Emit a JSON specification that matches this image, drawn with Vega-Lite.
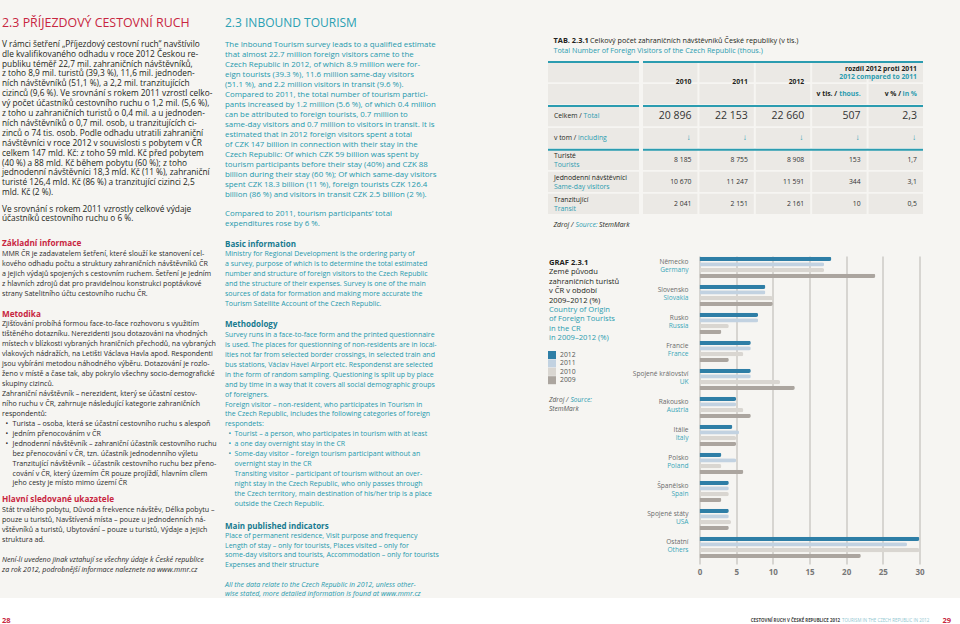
{
  "$schema": "https://vega.github.io/schema/vega-lite/v6.json",
  "background": "#f6f5f2",
  "padding": 0,
  "spacing": 0,
  "resolve": {"scale": {"color": "independent"}, "legend": {"color": "independent"}},
  "config": {
    "view": {"stroke": null},
    "font": "Open Sans",
    "text": {"align": "left", "baseline": "alphabetic", "font": "Open Sans"}
  },
  "datasets": {
    "one": [{}],
    "years": [{"year": "2012"}, {"year": "2011"}, {"year": "2010"}, {"year": "2009"}],
    "bars": [
      {"cz": "Německo", "en": "Germany", "year": "2012", "v": 18},
      {"cz": "Německo", "en": "Germany", "year": "2011", "v": 17},
      {"cz": "Německo", "en": "Germany", "year": "2010", "v": 17},
      {"cz": "Německo", "en": "Germany", "year": "2009", "v": 24},
      {"cz": "Slovensko", "en": "Slovakia", "year": "2012", "v": 9},
      {"cz": "Slovensko", "en": "Slovakia", "year": "2011", "v": 9},
      {"cz": "Slovensko", "en": "Slovakia", "year": "2010", "v": 10},
      {"cz": "Slovensko", "en": "Slovakia", "year": "2009", "v": 10},
      {"cz": "Rusko", "en": "Russia", "year": "2012", "v": 8},
      {"cz": "Rusko", "en": "Russia", "year": "2011", "v": 8},
      {"cz": "Rusko", "en": "Russia", "year": "2010", "v": 4},
      {"cz": "Rusko", "en": "Russia", "year": "2009", "v": 3},
      {"cz": "Francie", "en": "France", "year": "2012", "v": 7},
      {"cz": "Francie", "en": "France", "year": "2011", "v": 7},
      {"cz": "Francie", "en": "France", "year": "2010", "v": 6},
      {"cz": "Francie", "en": "France", "year": "2009", "v": 4},
      {"cz": "Spojené království", "en": "UK", "year": "2012", "v": 7},
      {"cz": "Spojené království", "en": "UK", "year": "2011", "v": 7},
      {"cz": "Spojené království", "en": "UK", "year": "2010", "v": 11},
      {"cz": "Spojené království", "en": "UK", "year": "2009", "v": 13},
      {"cz": "Rakousko", "en": "Austria", "year": "2012", "v": 5},
      {"cz": "Rakousko", "en": "Austria", "year": "2011", "v": 5},
      {"cz": "Rakousko", "en": "Austria", "year": "2010", "v": 6},
      {"cz": "Rakousko", "en": "Austria", "year": "2009", "v": 7},
      {"cz": "Itálie", "en": "Italy", "year": "2012", "v": 4.5},
      {"cz": "Itálie", "en": "Italy", "year": "2011", "v": 5.4},
      {"cz": "Itálie", "en": "Italy", "year": "2010", "v": 5},
      {"cz": "Itálie", "en": "Italy", "year": "2009", "v": 5},
      {"cz": "Polsko", "en": "Poland", "year": "2012", "v": 3},
      {"cz": "Polsko", "en": "Poland", "year": "2011", "v": 5},
      {"cz": "Polsko", "en": "Poland", "year": "2010", "v": 3},
      {"cz": "Polsko", "en": "Poland", "year": "2009", "v": 6},
      {"cz": "Španělsko", "en": "Spain", "year": "2012", "v": 4},
      {"cz": "Španělsko", "en": "Spain", "year": "2011", "v": 4},
      {"cz": "Španělsko", "en": "Spain", "year": "2010", "v": 4},
      {"cz": "Španělsko", "en": "Spain", "year": "2009", "v": 3},
      {"cz": "Spojené státy", "en": "USA", "year": "2012", "v": 4},
      {"cz": "Spojené státy", "en": "USA", "year": "2011", "v": 4},
      {"cz": "Spojené státy", "en": "USA", "year": "2010", "v": 4.3},
      {"cz": "Spojené státy", "en": "USA", "year": "2009", "v": 4},
      {"cz": "Ostatní", "en": "Others", "year": "2012", "v": 30},
      {"cz": "Ostatní", "en": "Others", "year": "2011", "v": 28.3},
      {"cz": "Ostatní", "en": "Others", "year": "2010", "v": 30},
      {"cz": "Ostatní", "en": "Others", "year": "2009", "v": 22}
    ],
    "cells": [
      {"row": "h1", "col": "y2010", "t": "2010"}, {"row": "h1", "col": "y2011", "t": "2011"}, {"row": "h1", "col": "y2012", "t": "2012"}, {"row": "h1", "col": "dth", "t": ""}, {"row": "h1", "col": "dpc", "t": ""},
      {"row": "h2", "col": "y2010", "t": ""}, {"row": "h2", "col": "y2011", "t": ""}, {"row": "h2", "col": "y2012", "t": ""}, {"row": "h2", "col": "dth", "t": ""}, {"row": "h2", "col": "dpc", "t": ""},
      {"row": "tot", "col": "y2010", "t": "20 896"}, {"row": "tot", "col": "y2011", "t": "22 153"}, {"row": "tot", "col": "y2012", "t": "22 660"}, {"row": "tot", "col": "dth", "t": "507"}, {"row": "tot", "col": "dpc", "t": "2,3"},
      {"row": "vtom", "col": "y2010", "t": "↓"}, {"row": "vtom", "col": "y2011", "t": "↓"}, {"row": "vtom", "col": "y2012", "t": "↓"}, {"row": "vtom", "col": "dth", "t": "↓"}, {"row": "vtom", "col": "dpc", "t": "↓"},
      {"row": "tur", "col": "y2010", "t": "8 185"}, {"row": "tur", "col": "y2011", "t": "8 755"}, {"row": "tur", "col": "y2012", "t": "8 908"}, {"row": "tur", "col": "dth", "t": "153"}, {"row": "tur", "col": "dpc", "t": "1,7"},
      {"row": "jed", "col": "y2010", "t": "10 670"}, {"row": "jed", "col": "y2011", "t": "11 247"}, {"row": "jed", "col": "y2012", "t": "11 591"}, {"row": "jed", "col": "dth", "t": "344"}, {"row": "jed", "col": "dpc", "t": "3,1"},
      {"row": "tra", "col": "y2010", "t": "2 041"}, {"row": "tra", "col": "y2011", "t": "2 151"}, {"row": "tra", "col": "y2012", "t": "2 161"}, {"row": "tra", "col": "dth", "t": "10"}, {"row": "tra", "col": "dpc", "t": "0,5"}
    ],
    "hdr": [
      {"row": "h1", "col": "dpc", "cz": "rozdíl 2012 proti 2011", "en": "2012 compared to 2011"},
      {"row": "h2", "col": "dth", "cz": "v tis. /", "en": "thous."},
      {"row": "h2", "col": "dpc", "cz": "v % /", "en": "in %"}
    ],
    "labels": [
      {"row": "h1", "cz": "", "en": ""},
      {"row": "h2", "cz": "", "en": ""},
      {"row": "tot", "cz": "Celkem /", "en": "Total"},
      {"row": "vtom", "cz": "v tom /", "en": "including"},
      {"row": "tur", "cz": "Turisté", "en": "Tourists"},
      {"row": "jed", "cz": "Jednodenní návštěvníci", "en": "Same-day visitors"},
      {"row": "tra", "cz": "Tranzitující", "en": "Transit"}
    ],
    "tlines": [{"row": "h1"}, {"row": "tot"}, {"row": "tur"}]
  },
  "vconcat": [
    {
      "resolve": {"scale": {"color": "independent"}, "legend": {"color": "independent"}},
      "hconcat": [
        {
          "width": 547,
          "height": 597,
          "data": {"name": "one"},
          "layer": [
            {"mark": {"type": "text", "text": "2.3 PŘÍJEZDOVÝ CESTOVNÍ RUCH", "x": 2, "y": 27, "fontSize": 12.4, "color": "#c8263f"}},
            {"mark": {"type": "text", "x": 2, "y": 46.8, "fontSize": 8.3, "lineHeight": 9.9, "color": "#231f20", "text": [
              "V rámci šetření „Příjezdový cestovní ruch“ navštívilo",
              "dle kvalifikovaného odhadu v roce 2012 Českou re-",
              "publiku téměř 22,7 mil. zahraničních návštěvníků,",
              "z toho 8,9 mil. turistů (39,3 %), 11,6 mil. jednoden-",
              "ních návštěvníků (51,1 %), a 2,2 mil. tranzitujících",
              "cizinců (9,6 %). Ve srovnání s rokem 2011 vzrostl celko-",
              "vý počet účastníků cestovního ruchu o 1,2 mil. (5,6 %),",
              "z toho u zahraničních turistů o 0,4 mil. a u jednoden-",
              "ních návštěvníků o 0,7 mil. osob, u tranzitujících ci-",
              "zinců o 74 tis. osob. Podle odhadu utratili zahraniční",
              "návštěvníci v roce 2012 v souvislosti s pobytem v ČR",
              "celkem 147 mld. Kč: z toho 59 mld. Kč před pobytem",
              "(40 %) a 88 mld. Kč během pobytu (60 %); z toho",
              "jednodenní návštěvníci 18,3 mld. Kč (11 %), zahraniční",
              "turisté 126,4 mld. Kč (86 %) a tranzitující cizinci 2,5",
              "mld. Kč (2 %)."
            ]}},
            {"mark": {"type": "text", "x": 2, "y": 211.5, "fontSize": 8.3, "lineHeight": 9.9, "color": "#231f20", "text": [
              "Ve srovnání s rokem 2011 vzrostly celkové výdaje",
              "účastníků cestovního ruchu o 6 %."
            ]}},
            {"mark": {"type": "text", "text": "Základní informace", "x": 2, "y": 246, "fontSize": 8.2, "fontWeight": "bold", "color": "#c8263f"}},
            {"mark": {"type": "text", "x": 2, "y": 256.2, "fontSize": 7.1, "lineHeight": 9.95, "color": "#2b2b2b", "text": [
              "MMR ČR je zadavatelem šetření, které slouží ke stanovení cel-",
              "kového odhadu počtu a struktury zahraničních návštěvníků ČR",
              "a jejich výdajů spojených s cestovním ruchem. Šetření je jedním",
              "z hlavních zdrojů dat pro pravidelnou konstrukci poptávkové",
              "strany Satelitního účtu cestovního ruchu ČR."
            ]}},
            {"mark": {"type": "text", "text": "Metodika", "x": 2, "y": 317, "fontSize": 8.2, "fontWeight": "bold", "color": "#c8263f"}},
            {"mark": {"type": "text", "x": 2, "y": 326.3, "fontSize": 7.1, "lineHeight": 9.95, "color": "#2b2b2b", "text": [
              "Zjišťování probíhá formou face-to-face rozhovoru s využitím",
              "tištěného dotazníku. Nerezidenti jsou dotazováni na vhodných",
              "místech v blízkosti vybraných hraničních přechodů, na vybraných",
              "vlakových nádražích, na Letišti Václava Havla apod. Respondenti",
              "jsou vybíráni metodou náhodného výběru. Dotazování je rozlo-",
              "ženo v místě a čase tak, aby pokrylo všechny socio-demografické",
              "skupiny cizinců.",
              "Zahraniční návštěvník – nerezident, který se účastní cestov-",
              "ního ruchu v ČR, zahrnuje následující kategorie zahraničních",
              "respondentů:"
            ]}},
            {"mark": {"type": "text", "x": 5.5, "y": 425.8, "fontSize": 7.1, "lineHeight": 9.95, "color": "#2b2b2b", "text": ["•", "", "•", "", "•", "", ""]}},
            {"mark": {"type": "text", "x": 12.5, "y": 425.8, "fontSize": 7.1, "lineHeight": 9.95, "color": "#2b2b2b", "text": [
              "Turista – osoba, která se účastní cestovního ruchu s alespoň",
              "jedním přenocováním v ČR",
              "Jednodenní návštěvník – zahraniční účastník cestovního ruchu",
              "bez přenocování v ČR, tzn. účastník jednodenního výletu",
              "Tranzitující návštěvník – účastník cestovního ruchu bez přeno-",
              "cování v ČR, který územím ČR pouze projíždí, hlavním cílem",
              "jeho cesty je místo mimo území ČR"
            ]}},
            {"mark": {"type": "text", "text": "Hlavní sledované ukazatele", "x": 2, "y": 502, "fontSize": 8.2, "fontWeight": "bold", "color": "#c8263f"}},
            {"mark": {"type": "text", "x": 2, "y": 512.3, "fontSize": 7.1, "lineHeight": 9.95, "color": "#2b2b2b", "text": [
              "Stát trvalého pobytu, Důvod a frekvence návštěv, Délka pobytu –",
              "pouze u turistů, Navštívená místa – pouze u jednodenních ná-",
              "vštěvníků a turistů, Ubytování – pouze u turistů, Výdaje a jejich",
              "struktura ad."
            ]}},
            {"mark": {"type": "text", "x": 2, "y": 562.3, "fontSize": 7.1, "lineHeight": 9.95, "fontStyle": "italic", "color": "#2b2b2b", "text": [
              "Není-li uvedeno jinak vztahují se všechny údaje k České republice",
              "za rok 2012, podrobnější informace naleznete na www.mmr.cz"
            ]}},
            {"mark": {"type": "text", "text": "2.3 INBOUND TOURISM", "x": 225, "y": 27, "fontSize": 12, "color": "#2aa0b3"}},
            {"mark": {"type": "text", "x": 225, "y": 46.5, "fontSize": 7.9, "lineHeight": 10, "color": "#2599ad", "text": [
              "The Inbound Tourism survey leads to a qualified estimate",
              "that almost 22.7 million foreign visitors came to the",
              "Czech Republic in 2012, of which 8.9 million were for-",
              "eign tourists (39.3 %), 11.6 million same-day visitors",
              "(51.1 %), and 2.2 million visitors in transit (9.6 %).",
              "Compared to 2011, the total number of tourism partici-",
              "pants increased by 1.2 million (5.6 %), of which 0.4 million",
              "can be attributed to foreign tourists, 0.7 million to",
              "same-day visitors and 0.7 million to visitors in transit. It is",
              "estimated that in 2012 foreign visitors spent a total",
              "of CZK 147 billion in connection with their stay in the",
              "Czech Republic: Of which CZK 59 billion was spent by",
              "tourism participants before their stay (40%) and CZK 88",
              "billion during their stay (60 %); Of which same-day visitors",
              "spent CZK 18.3 billion (11 %), foreign tourists CZK 126.4",
              "billion (86 %) and visitors in transit CZK 2.5 billion (2 %)."
            ]}},
            {"mark": {"type": "text", "x": 225, "y": 216, "fontSize": 7.9, "lineHeight": 10, "color": "#2599ad", "text": [
              "Compared to 2011, tourism participants’ total",
              "expenditures rose by 6 %."
            ]}},
            {"mark": {"type": "text", "text": "Basic information", "x": 225, "y": 247, "fontSize": 8, "fontWeight": "bold", "color": "#177a90"}},
            {"mark": {"type": "text", "x": 225, "y": 256.2, "fontSize": 7, "lineHeight": 9.95, "color": "#2599ad", "text": [
              "Ministry for Regional Development is the ordering party of",
              "a survey, purpose of which is to determine the total estimated",
              "number and structure of foreign visitors to the Czech Republic",
              "and the structure of their expenses. Survey is one of the main",
              "sources of data for formation and making more accurate the",
              "Tourism Satellite Account of the Czech Republic."
            ]}},
            {"mark": {"type": "text", "text": "Methodology", "x": 225, "y": 327, "fontSize": 8, "fontWeight": "bold", "color": "#177a90"}},
            {"mark": {"type": "text", "x": 225, "y": 336.9, "fontSize": 7, "lineHeight": 9.95, "color": "#2599ad", "text": [
              "Survey runs in a face-to-face form and the printed questionnaire",
              "is used. The places for questionning of non-residents are in local-",
              "ities not far from selected border crossings, in selected train and",
              "bus stations, Václav Havel Airport etc. Respondenst are selected",
              "in the form of random sampling. Questioning is split up by place",
              "and by time in a way that it covers all social demographic groups",
              "of foreigners.",
              "Foreign visitor – non-resident, who participates in Tourism in",
              "the Czech Republic, includes the following categories of foreign",
              "respondets:"
            ]}},
            {"mark": {"type": "text", "x": 228.5, "y": 436.4, "fontSize": 7, "lineHeight": 9.95, "color": "#2599ad", "text": ["•", "", "•", "", "•", "", "", ""]}},
            {"mark": {"type": "text", "x": 234.5, "y": 436.4, "fontSize": 7, "lineHeight": 9.95, "color": "#2599ad", "text": [
              "Tourist – a person, who participates in tourism with at least",
              "a one day overnight stay in the CR",
              "Some-day visitor – foreign tourism participant without an",
              "overnight stay in the CR",
              "Transiting visitor – participant of tourism without an over-",
              "night stay in the Czech Republic, who only passes through",
              "the Czech territory, main destination of his/her trip is a place",
              "outside the Czech Republic."
            ]}},
            {"mark": {"type": "text", "text": "Main published indicators", "x": 225, "y": 528.5, "fontSize": 8, "fontWeight": "bold", "color": "#177a90"}},
            {"mark": {"type": "text", "x": 225, "y": 537.6, "fontSize": 7, "lineHeight": 9.95, "color": "#2599ad", "text": [
              "Place of permanent residence, Visit purpose and frequency",
              "Length of stay – only for tourists, Places visited – only for",
              "some-day visitors and tourists, Accommodation – only for tourists",
              "Expenses and their structure"
            ]}},
            {"mark": {"type": "text", "x": 225, "y": 586.5, "fontSize": 7, "lineHeight": 9.6, "fontStyle": "italic", "color": "#2599ad", "text": [
              "All the data relate to the Czech Republic in 2012, unless other-",
              "wise stated, more detailed information is found at www.mmr.cz"
            ]}}
          ]
        },
        {
          "resolve": {"scale": {"color": "independent"}, "legend": {"color": "independent"}},
          "spacing": 27,
          "vconcat": [
            {
              "vconcat": [
                {
                  "width": 373,
                  "height": 56,
                  "data": {"name": "one"},
                  "layer": [
                    {"mark": {"type": "text", "text": "TAB. 2.3.1", "x": 5.5, "y": 42.7, "fontSize": 7.4, "fontWeight": "bold", "color": "#231f20"}},
                    {"mark": {"type": "text", "text": "Celkový počet zahraničních návštěvníků České republiky (v tis.)", "x": 42, "y": 42.7, "fontSize": 7.2, "color": "#231f20"}},
                    {"mark": {"type": "text", "text": "Total Number of Foreign Visitors of the Czech Republic (thous.)", "x": 5.5, "y": 52.7, "fontSize": 7.2, "color": "#2b9cb0"}}
                  ]
                },
                {
                  "hconcat": [
                    {
                      "width": 91,
                      "height": 152,
                      "data": {"name": "labels"},
                      "layer": [
                        {"mark": {"type": "rect", "color": "#ebe9e5"}, "encoding": {
                          "y": {"field": "row", "type": "nominal", "scale": {"domain": ["h1", "h2", "tot", "vtom", "tur", "jed", "tra"], "paddingInner": 0.08, "paddingOuter": 0}, "axis": null},
                          "x": {"value": 0}, "x2": {"value": "width"}}},
                        {"transform": [{"filter": "datum.row === 'tur' || datum.row === 'jed' || datum.row === 'tra'"}],
                         "mark": {"type": "text", "baseline": "middle", "dy": -4.3, "fontSize": 6.8, "color": "#231f20"},
                         "encoding": {"y": {"field": "row", "type": "nominal"}, "x": {"value": 6}, "text": {"field": "cz"}}},
                        {"transform": [{"filter": "datum.row === 'tur' || datum.row === 'jed' || datum.row === 'tra'"}],
                         "mark": {"type": "text", "baseline": "middle", "dy": 4.7, "fontSize": 6.8, "color": "#2b9cb0"},
                         "encoding": {"y": {"field": "row", "type": "nominal"}, "x": {"value": 6}, "text": {"field": "en"}}},
                        {"transform": [{"filter": "datum.row === 'tot' || datum.row === 'vtom'"}],
                         "mark": {"type": "text", "baseline": "middle", "fontSize": 6.8, "color": "#231f20"},
                         "encoding": {"y": {"field": "row", "type": "nominal"}, "x": {"value": 6}, "text": {"field": "cz"}}},
                        {"transform": [{"filter": "datum.row === 'tot'"}],
                         "mark": {"type": "text", "baseline": "middle", "fontSize": 6.8, "color": "#2b9cb0"},
                         "encoding": {"y": {"field": "row", "type": "nominal"}, "x": {"value": 35.6}, "text": {"field": "en"}}},
                        {"transform": [{"filter": "datum.row === 'vtom'"}],
                         "mark": {"type": "text", "baseline": "middle", "fontSize": 6.8, "color": "#2b9cb0"},
                         "encoding": {"y": {"field": "row", "type": "nominal"}, "x": {"value": 30}, "text": {"field": "en"}}},
                        {"data": {"name": "tlines"}, "mark": {"type": "rule", "color": "#2b9cb0", "strokeWidth": 2},
                         "encoding": {"y": {"field": "row", "type": "nominal", "bandPosition": 0}}},
                        {"data": {"name": "one"}, "mark": {"type": "text", "text": "Zdroj /", "fontSize": 6.8, "fontStyle": "italic", "color": "#231f20"},
                         "encoding": {"x": {"value": 5.5}, "y": {"value": 164.5}}},
                        {"data": {"name": "one"}, "mark": {"type": "text", "text": "Source:", "fontSize": 6.8, "fontStyle": "italic", "color": "#2b9cb0"},
                         "encoding": {"x": {"value": 27.5}, "y": {"value": 164.5}}},
                        {"data": {"name": "one"}, "mark": {"type": "text", "text": "StemMark", "fontSize": 6.8, "fontStyle": "italic", "color": "#231f20"},
                         "encoding": {"x": {"value": 51}, "y": {"value": 164.5}}}
                      ]
                    },
                    {
                      "width": 280,
                      "height": 152,
                      "layer": [
                        {"data": {"name": "cells"}, "mark": {"type": "rect", "color": "#ebe9e5"}, "encoding": {
                          "x": {"field": "col", "type": "nominal", "scale": {"domain": ["y2010", "y2011", "y2012", "dth", "dpc"], "paddingInner": 0.035, "paddingOuter": 0}, "axis": null},
                          "y": {"field": "row", "type": "nominal", "scale": {"domain": ["h1", "h2", "tot", "vtom", "tur", "jed", "tra"], "paddingInner": 0.08, "paddingOuter": 0}, "axis": null}}},
                        {"data": {"name": "cells"}, "transform": [{"filter": "datum.row === 'h1' && datum.t !== ''"}],
                         "mark": {"type": "text", "align": "right", "baseline": "middle", "dx": -6, "fontSize": 6.8, "fontWeight": "bold", "color": "#231f20"},
                         "encoding": {"x": {"field": "col", "type": "nominal", "bandPosition": 1}, "y": {"field": "row", "type": "nominal", "bandPosition": 1}, "text": {"field": "t"}}},
                        {"data": {"name": "cells"}, "transform": [{"filter": "datum.row === 'tot' || datum.row === 'tur' || datum.row === 'jed' || datum.row === 'tra'"}],
                         "mark": {"type": "text", "align": "right", "baseline": "middle", "dx": -6, "color": "#333333"},
                         "encoding": {"x": {"field": "col", "type": "nominal", "bandPosition": 1}, "y": {"field": "row", "type": "nominal"}, "text": {"field": "t"},
                           "size": {"condition": {"test": "datum.row === 'tot'", "value": 10.5}, "value": 6.8}}},
                        {"data": {"name": "cells"}, "transform": [{"filter": "datum.row === 'vtom'"}],
                         "mark": {"type": "text", "align": "right", "baseline": "middle", "dx": -7, "fontSize": 8, "color": "#2b9cb0"},
                         "encoding": {"x": {"field": "col", "type": "nominal", "bandPosition": 1}, "y": {"field": "row", "type": "nominal"}, "text": {"field": "t"}}},
                        {"data": {"name": "hdr"}, "transform": [{"filter": "datum.row === 'h1'"}],
                         "mark": {"type": "text", "align": "right", "baseline": "middle", "dx": -6, "dy": -3.2, "fontSize": 6.8, "fontWeight": "bold", "color": "#231f20"},
                         "encoding": {"x": {"field": "col", "type": "nominal", "bandPosition": 1}, "y": {"field": "row", "type": "nominal"}, "text": {"field": "cz"}}},
                        {"data": {"name": "hdr"}, "transform": [{"filter": "datum.row === 'h1'"}],
                         "mark": {"type": "text", "align": "right", "baseline": "middle", "dx": -6, "dy": 4.8, "fontSize": 6.8, "fontWeight": "bold", "color": "#2b9cb0"},
                         "encoding": {"x": {"field": "col", "type": "nominal", "bandPosition": 1}, "y": {"field": "row", "type": "nominal"}, "text": {"field": "en"}}},
                        {"data": {"name": "hdr"}, "transform": [{"filter": "datum.row === 'h2' && datum.col === 'dth'"}],
                         "mark": {"type": "text", "align": "right", "baseline": "middle", "dx": -29.5, "fontSize": 6.8, "fontWeight": "bold", "color": "#231f20"},
                         "encoding": {"x": {"field": "col", "type": "nominal", "bandPosition": 1}, "y": {"field": "row", "type": "nominal"}, "text": {"field": "cz"}}},
                        {"data": {"name": "hdr"}, "transform": [{"filter": "datum.row === 'h2' && datum.col === 'dpc'"}],
                         "mark": {"type": "text", "align": "right", "baseline": "middle", "dx": -22, "fontSize": 6.8, "fontWeight": "bold", "color": "#231f20"},
                         "encoding": {"x": {"field": "col", "type": "nominal", "bandPosition": 1}, "y": {"field": "row", "type": "nominal"}, "text": {"field": "cz"}}},
                        {"data": {"name": "hdr"}, "transform": [{"filter": "datum.row === 'h2'"}],
                         "mark": {"type": "text", "align": "right", "baseline": "middle", "dx": -6, "fontSize": 6.8, "fontWeight": "bold", "color": "#2b9cb0"},
                         "encoding": {"x": {"field": "col", "type": "nominal", "bandPosition": 1}, "y": {"field": "row", "type": "nominal"}, "text": {"field": "en"}}},
                        {"data": {"name": "tlines"}, "mark": {"type": "rule", "color": "#2b9cb0", "strokeWidth": 2},
                         "encoding": {"y": {"field": "row", "type": "nominal", "bandPosition": 0}}}
                      ]
                    }
                  ],
                  "spacing": 2
                }
              ],
              "spacing": 5
            },
            {
              "resolve": {"scale": {"color": "independent"}, "legend": {"color": "independent"}},
              "spacing": 4.5,
              "hconcat": [
                {
                  "width": 80,
                  "height": 308,
                  "layer": [
                    {"data": {"name": "years"}, "mark": {"type": "square", "size": 0},
                     "encoding": {"x": {"value": 0}, "y": {"value": 0},
                       "color": {"field": "year", "type": "nominal",
                         "scale": {"domain": ["2012", "2011", "2010", "2009"], "range": ["#2e7ea6", "#c2d2e1", "#d9d6d1", "#aba59f"]},
                         "legend": {"orient": "none", "legendX": 0, "legendY": 95, "title": null, "symbolType": "square", "symbolSize": 64,
                           "symbolStrokeWidth": 0, "symbolOpacity": 1, "labelFontSize": 6.8, "labelColor": "#555555", "rowPadding": 0.4, "labelOffset": 4, "padding": 0}}}},
                    {"data": {"name": "one"}, "mark": {"type": "text", "text": "GRAF 2.3.1", "x": 1, "y": 9, "fontSize": 7.6, "fontWeight": "bold", "color": "#231f20"}},
                    {"data": {"name": "one"}, "mark": {"type": "text", "x": 1, "y": 18.4, "fontSize": 7.6, "lineHeight": 9.4, "color": "#231f20", "text": ["Země původu", "zahraničních turistů", "v ČR v období", "2009–2012 (%)"]}},
                    {"data": {"name": "one"}, "mark": {"type": "text", "x": 1, "y": 56, "fontSize": 7.6, "lineHeight": 9.4, "color": "#2b9cb0", "text": ["Country of Origin", "of Foreign Tourists", "in the CR", "in 2009–2012 (%)"]}},
                    {"data": {"name": "one"}, "mark": {"type": "text", "text": "Zdroj /", "x": 1, "y": 145.5, "fontSize": 6.6, "fontStyle": "italic", "color": "#555555"}},
                    {"data": {"name": "one"}, "mark": {"type": "text", "text": "Source:", "x": 22.5, "y": 145.5, "fontSize": 6.6, "fontStyle": "italic", "color": "#2b9cb0"}},
                    {"data": {"name": "one"}, "mark": {"type": "text", "text": "StemMark", "x": 1, "y": 155, "fontSize": 6.6, "fontStyle": "italic", "color": "#555555"}}
                  ]
                },
                {
                  "width": 220,
                  "height": 308,
                  "data": {"name": "bars"},
                  "layer": [
                    {
                      "mark": {"type": "bar", "cornerRadiusEnd": 2},
                      "encoding": {
                        "y": {"field": "cz", "type": "nominal", "sort": null,
                          "scale": {"domain": ["Německo", "Slovensko", "Rusko", "Francie", "Spojené království", "Rakousko", "Itálie", "Polsko", "Španělsko", "Spojené státy", "Ostatní"], "paddingInner": 0.24, "paddingOuter": 0.12, "align": 0.1},
                          "axis": null},
                        "yOffset": {"field": "year", "type": "nominal", "scale": {"domain": ["2012", "2011", "2010", "2009"], "paddingInner": 0.25, "paddingOuter": 0}},
                        "x": {"field": "v", "type": "quantitative", "scale": {"domain": [0, 30], "nice": false},
                          "axis": {"values": [0, 5, 10, 15, 20, 25, 30], "grid": true, "gridColor": "#cdcac6", "gridWidth": 1.5, "domain": false, "ticks": false,
                            "labelFontWeight": "bold", "labelColor": "#777777", "labelFontSize": 8, "labelPadding": 4, "title": null, "labelFlush": false}},
                        "color": {"field": "year", "type": "nominal",
                          "scale": {"domain": ["2012", "2011", "2010", "2009"], "range": ["#2e7ea6", "#c2d2e1", "#d9d6d1", "#aba59f"]},
                          "legend": null}
                      }
                    },
                    {
                      "transform": [{"filter": "datum.year === '2012'"}],
                      "mark": {"type": "text", "align": "right", "baseline": "middle", "dy": -5.6, "fontSize": 6.6, "color": "#6b6b6b"},
                      "encoding": {"y": {"field": "cz", "type": "nominal"}, "x": {"value": -11}, "text": {"field": "cz"}}
                    },
                    {
                      "transform": [{"filter": "datum.year === '2012'"}],
                      "mark": {"type": "text", "align": "right", "baseline": "middle", "dy": 2.6, "fontSize": 6.6, "color": "#3aa7b9"},
                      "encoding": {"y": {"field": "cz", "type": "nominal"}, "x": {"value": -11}, "text": {"field": "en"}}
                    }
                  ]
                }
              ]
            }
          ]
        }
      ],
      "spacing": 0
    },
    {
      "width": 960,
      "height": 27,
      "view": {"fill": "#ffffff"},
      "data": {"name": "one"},
      "layer": [
        {"mark": {"type": "text", "text": "28", "x": 2, "y": 24.5, "fontSize": 7.5, "fontWeight": "bold", "color": "#c8263f"}},
        {"mark": {"type": "text", "text": "CESTOVNÍ RUCH V ČESKÉ REPUBLICE 2012", "x": 840, "y": 24, "align": "right", "fontSize": 4.4, "fontWeight": "bold", "color": "#444444"}},
        {"mark": {"type": "text", "text": "TOURISM IN THE CZECH REPUBLIC IN 2012", "x": 842, "y": 24, "fontSize": 4.4, "color": "#8fc6d0"}},
        {"mark": {"type": "text", "text": "29", "x": 951, "y": 24.5, "align": "right", "fontSize": 7.5, "fontWeight": "bold", "color": "#c8263f"}}
      ]
    }
  ]
}
